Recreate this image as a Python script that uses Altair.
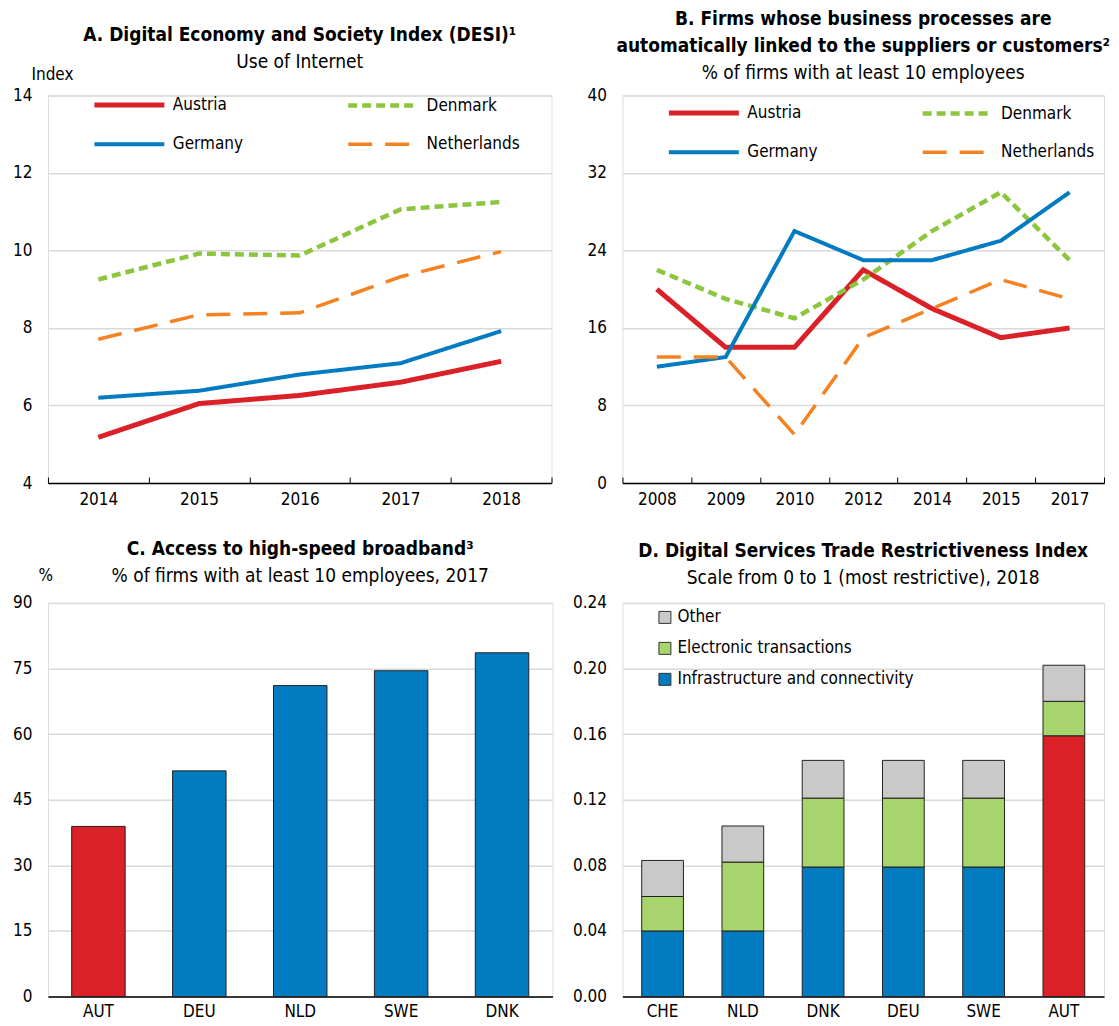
import altair as alt
import pandas as pd

FONT = "DejaVu Sans Condensed, Liberation Sans Narrow, sans-serif"
RED = "#DA2128"
BLUE = "#037BC1"
GREEN = "#8CC63F"
LGREEN = "#A8D46E"
ORANGE = "#F58220"
GRAY = "#C9C9C9"
GRID = "#D9D9D9"
FS = 17

countries = ["Austria", "Denmark", "Germany", "Netherlands"]
line_colors = [RED, GREEN, BLUE, ORANGE]
line_dashes = [[1, 0], [9, 5], [1, 0], [24, 13]]
line_widths = [5, 3.5, 3, 3]

# Panel A: DESI - Use of Internet
desi_years = ["2014", "2015", "2016", "2017", "2018"]
desi_austria = [5.18, 6.05, 6.26, 6.60, 7.14]
desi_denmark = [9.25, 9.92, 9.87, 11.06, 11.25]
desi_germany = [6.20, 6.38, 6.80, 7.09, 7.92]
desi_netherlands = [7.71, 8.34, 8.39, 9.32, 9.97]

# Panel B: firms with automatically linked business processes
link_years = ["2008", "2009", "2010", "2012", "2014", "2015", "2017"]
link_austria = [20, 14, 14, 22, 18, 15, 16]
link_denmark = [22, 19, 17, 21, 26, 30, 23]
link_germany = [12, 13, 26, 23, 23, 25, 30]
link_netherlands = [13, 13, 5, 15, 18, 21, 19]

# Panel C: high-speed broadband
bb_countries = ["AUT", "DEU", "NLD", "SWE", "DNK"]
bb_values = [38.9, 51.6, 71.1, 74.5, 78.6]

# Panel D: Digital STRI
dstri_countries = ["CHE", "NLD", "DNK", "DEU", "SWE", "AUT"]
dstri_components = ["Other", "Electronic transactions", "Infrastructure and connectivity"]
dstri_infra = [0.040, 0.040, 0.079, 0.079, 0.079, 0.159]
dstri_elec = [0.021, 0.042, 0.042, 0.042, 0.042, 0.021]
dstri_other = [0.022, 0.022, 0.023, 0.023, 0.023, 0.022]


def title_params(lines, sub, offset):
    return alt.TitleParams(
        text=lines, subtitle=sub, anchor="middle", frame="group",
        font=FONT, fontSize=19, fontWeight="bold", color="black",
        subtitleFont=FONT, subtitleFontSize=19, subtitleColor="black",
        subtitlePadding=8, lineHeight=27, offset=offset,
    )


def line_panel(years, series, ydom, yvals, title, sub, ytitle, w, h, lx, ly, toff):
    rows = []
    for c in countries:
        for yr, v in zip(years, series[c]):
            rows.append({"year": yr, "country": c, "value": v})
    df = pd.DataFrame(rows)
    leg = alt.Legend(
        title=None, orient="none", legendX=lx, legendY=ly, columns=2,
        direction="horizontal",
        columnPadding=95, rowPadding=20, symbolType="M-1,0H9", symbolSize=196,
        labelOffset=62, labelFont=FONT, labelFontSize=FS, labelColor="black",
        labelLimit=400, symbolFillColor="transparent",
    )
    yaxis_kw = dict(
        values=yvals, grid=True, gridColor=GRID, gridWidth=1.5, domain=False,
        ticks=False, labelPadding=16, labelFont=FONT, labelFontSize=FS,
        labelColor="black",
    )
    if ytitle:
        yaxis_kw.update(title=ytitle, titleAngle=0, titleX=-17, titleY=-21,
                        titleAlign="left", titleBaseline="middle", titleFont=FONT,
                        titleFontSize=FS, titleFontWeight="normal", titleColor="black")
    else:
        yaxis_kw.update(title=None)
    return alt.Chart(df).mark_line().encode(
        x=alt.X("year:N", sort=years,
                scale=alt.Scale(type="band", paddingInner=0, paddingOuter=0),
                axis=alt.Axis(title=None, labelAngle=0, tickBand="extent",
                              tickSize={"expr": "-6"}, tickColor="black", tickWidth=1,
                              domainColor="black", domainWidth=1.5, labelPadding=14,
                              grid=False, labelFont=FONT, labelFontSize=FS,
                              labelColor="black")),
        y=alt.Y("value:Q", scale=alt.Scale(domain=ydom, nice=False, zero=False),
                axis=alt.Axis(**yaxis_kw)),
        color=alt.Color("country:N", scale=alt.Scale(domain=countries, range=line_colors), legend=leg),
        strokeDash=alt.StrokeDash("country:N", scale=alt.Scale(domain=countries, range=line_dashes), legend=leg),
        strokeWidth=alt.StrokeWidth("country:N", scale=alt.Scale(domain=countries, range=line_widths), legend=leg),
    ).properties(width=w, height=h, title=title_params(title, sub, toff))


panel_a = line_panel(
    desi_years,
    {"Austria": desi_austria, "Denmark": desi_denmark, "Germany": desi_germany,
     "Netherlands": desi_netherlands},
    [4, 14], [4, 6, 8, 10, 12, 14],
    ["A. Digital Economy and Society Index (DESI)¹"], "Use of Internet", "Index",
    504, 388, 44, 0, -7,
)

panel_b = line_panel(
    link_years,
    {"Austria": link_austria, "Denmark": link_denmark, "Germany": link_germany,
     "Netherlands": link_netherlands},
    [0, 40], [0, 8, 16, 24, 32, 40],
    ["B. Firms whose business processes are",
     "automatically linked to the suppliers or customers²"],
    "% of firms with at least 10 employees", None,
    482, 388, 44, 8, 3,
)

# Panel C
df_c = pd.DataFrame({"country": bb_countries, "value": bb_values})
panel_c = alt.Chart(df_c).mark_bar(stroke="#222222", strokeWidth=1).encode(
    x=alt.X("country:N", sort=bb_countries,
            scale=alt.Scale(paddingInner=0.47, paddingOuter=0.235),
            axis=alt.Axis(title=None, labelAngle=0, ticks=False, domainColor="black",
                          domainWidth=1.5, labelPadding=7, labelFont=FONT,
                          labelFontSize=FS, labelColor="black")),
    y=alt.Y("value:Q", scale=alt.Scale(domain=[0, 90], nice=False),
            axis=alt.Axis(values=[0, 15, 30, 45, 60, 75, 90], grid=True, gridColor=GRID,
                          gridWidth=1.5, domain=False, ticks=False, labelPadding=16,
                          labelFont=FONT, labelFontSize=FS, labelColor="black",
                          title="%", titleAngle=0, titleX=-10, titleY=-27,
                          titleAlign="left", titleBaseline="middle", titleFont=FONT,
                          titleFontSize=FS, titleFontWeight="normal", titleColor="black")),
    fill=alt.condition("datum.country === 'AUT'", alt.value(RED), alt.value(BLUE)),
).properties(width=505, height=394,
             title=title_params(["C. Access to high-speed broadband³"],
                                "% of firms with at least 10 employees, 2017", -19))

# Panel D
rows_d = []
for i, c in enumerate(dstri_countries):
    rows_d.append({"country": c, "comp": dstri_components[2], "value": dstri_infra[i], "ord": 0})
    rows_d.append({"country": c, "comp": dstri_components[1], "value": dstri_elec[i], "ord": 1})
    rows_d.append({"country": c, "comp": dstri_components[0], "value": dstri_other[i], "ord": 2})
df_d = pd.DataFrame(rows_d)

leg_d = alt.Legend(
    title=None, orient="none", legendX=34, legendY=6, symbolType="square",
    symbolSize=144, symbolStrokeColor="#333333", symbolStrokeWidth=1,
    labelFont=FONT, labelFontSize=FS, labelColor="black", labelOffset=4,
    labelLimit=400, rowPadding=13,
)
panel_d = alt.Chart(df_d).mark_bar(stroke="#222222", strokeWidth=1).encode(
    x=alt.X("country:N", sort=dstri_countries,
            scale=alt.Scale(paddingInner=0.48, paddingOuter=0.24),
            axis=alt.Axis(title=None, labelAngle=0, ticks=False, domainColor="black",
                          domainWidth=1.5, labelPadding=7, labelFont=FONT,
                          labelFontSize=FS, labelColor="black")),
    y=alt.Y("value:Q", stack="zero", scale=alt.Scale(domain=[0, 0.24], nice=False),
            axis=alt.Axis(values=[0, 0.04, 0.08, 0.12, 0.16, 0.2, 0.24], format=".2f",
                          grid=True, gridColor=GRID, gridWidth=1.5, domain=False,
                          ticks=False, labelPadding=16, labelFont=FONT, labelFontSize=FS,
                          labelColor="black", title=None)),
    fill=alt.condition(
        "datum.country === 'AUT' && datum.comp === 'Infrastructure and connectivity'",
        alt.value(RED),
        alt.Fill("comp:N", scale=alt.Scale(domain=dstri_components, range=[GRAY, LGREEN, BLUE]),
                 legend=leg_d)),
    order=alt.Order("ord:Q"),
).properties(width=482, height=394,
             title=title_params(["D. Digital Services Trade Restrictiveness Index"],
                                "Scale from 0 to 1 (most restrictive), 2018", 6))

chart = alt.concat(
    panel_a, panel_b, panel_c, panel_d, columns=2,
    spacing={"row": 120, "column": 70}, bounds="flush", align="each",
).resolve_legend(
    color="independent", strokeDash="independent", strokeWidth="independent",
    fill="independent",
).resolve_scale(
    color="independent", strokeDash="independent", strokeWidth="independent",
    fill="independent",
).properties(
    padding={"left": 4, "top": 1, "right": 0, "bottom": 0}
).configure_view(stroke=None).configure(font=FONT)

chart.save("out.html", embed_options={"renderer": "svg", "actions": False})
